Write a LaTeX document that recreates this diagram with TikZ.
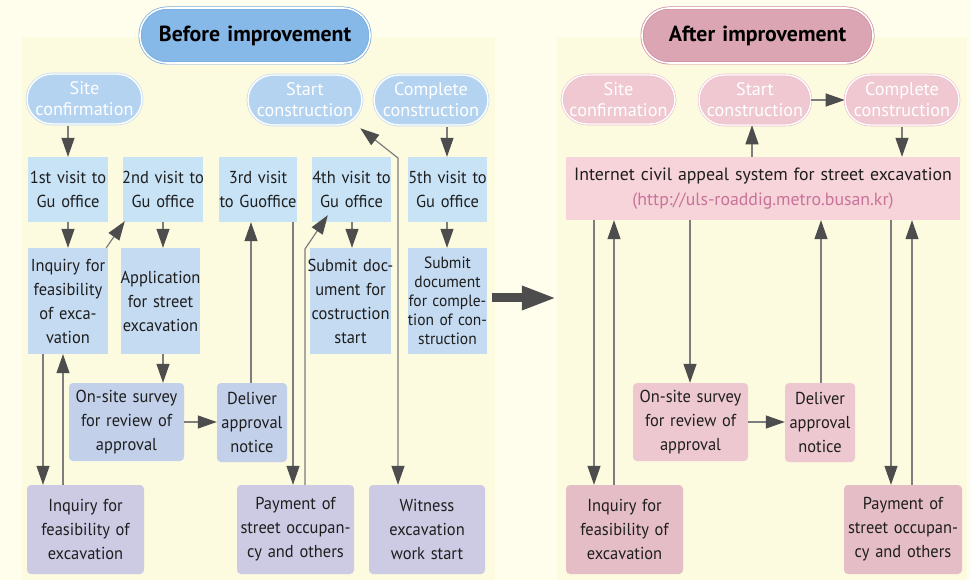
\documentclass[tikz,border=0pt]{standalone}
\usepackage{fontspec}
\setmainfont{PT Sans}
\newfontfamily\boxfont[FakeStretch=0.95]{PT Sans}
\usetikzlibrary{arrows.meta,calc}

\definecolor{pagebg}{HTML}{FFFEEC}
\definecolor{panelbg}{HTML}{FCFADF}
\definecolor{visitblue}{HTML}{C8E3F6}
\definecolor{taskblue}{HTML}{C5DBF1}
\definecolor{reviewblue}{HTML}{C2D0EA}
\definecolor{userlav}{HTML}{CDCAE4}
\definecolor{pillblue}{HTML}{B4D3F0}
\definecolor{pillblueline}{HTML}{BCD7EF}
\definecolor{titleblue}{HTML}{86B9E7}
\definecolor{titleblueline}{HTML}{72A9DD}
\definecolor{pillpink}{HTML}{F0C8D2}
\definecolor{pillpinkline}{HTML}{EBBFCA}
\definecolor{titlepink}{HTML}{DCA5B4}
\definecolor{titlepinkline}{HTML}{CF8A9D}
\definecolor{netpink}{HTML}{F7D4D9}
\definecolor{reviewpink}{HTML}{EDC8D0}
\definecolor{userpink}{HTML}{E5BDC6}
\definecolor{urlpink}{HTML}{C8739A}
\definecolor{linegray}{HTML}{7D7D7D}
\definecolor{headgray}{HTML}{4D4D4D}
\definecolor{inkdark}{HTML}{1E1E1E}

% box given by its corner coordinates: style, name, x1, y1, x2, y2, text
% (text area is wider than the box so lines never wrap; the box keeps its size)
\newcommand\cornerbox[7]{%
  \node[#1, minimum width={(#5-#3)*1pt}, minimum height={(#6-#4)*1pt},
        text width={(#5-#3+30)*1pt}, inner xsep=-15pt]
    (#2) at ({(#3+#5)/2},{(#4+#6)/2}) {#7};}

\begin{document}
\begin{tikzpicture}[x=1pt,y=-1pt,
  basebox/.style={rectangle, inner sep=0pt, align=center, text=inkdark,
    font=\boxfont\fontsize{17.3}{24}\selectfont},
  visitbox/.style={basebox, fill=visitblue},
  taskbox/.style={basebox, fill=taskblue},
  reviewbox/.style={basebox, fill=reviewblue, rounded corners=4pt},
  userbox/.style={basebox, fill=userlav, rounded corners=4pt},
  reviewboxR/.style={basebox, fill=reviewpink, rounded corners=4pt},
  userboxR/.style={basebox, fill=userpink, rounded corners=4pt},
  netbox/.style={basebox, fill=netpink, font=\rmfamily\fontsize{17.8}{25}\selectfont},
  pillL/.style={rectangle, rounded corners=25pt, inner sep=0pt, align=center,
    fill=pillblue, draw=pillblueline, double=white, double distance=1.4pt,
    line width=0.6pt, text=white, font=\fontsize{18.2}{21}\selectfont},
  pillR/.style={pillL, fill=pillpink, draw=pillpinkline},
  titleL/.style={rectangle, rounded corners=27pt, inner sep=0pt, align=center,
    fill=titleblue, draw=titleblueline, double=white, double distance=1.6pt,
    line width=0.7pt, text=black, font=\fontsize{21.8}{24}\selectfont\bfseries},
  titleR/.style={titleL, fill=titlepink, draw=titlepinkline},
  conn/.style={draw=linegray, line width=1.2pt,
    -{Triangle[length=19pt,width=13pt,color=headgray]}},
  conn2/.style={conn, {Triangle[length=19pt,width=13pt,color=headgray]}-{Triangle[length=19pt,width=13pt,color=headgray]}},
  bigarrow/.style={draw=headgray, line width=9pt,
    -{Triangle[length=35pt,width=22pt,color=headgray]}},
  panel/.style={rectangle, fill=panelbg, inner sep=0pt}
]
\useasboundingbox (0,0) rectangle (970,580);
\fill[pagebg] (0,0) rectangle (970,580);

% panels
\cornerbox{panel}{pl}{22}{37}{495}{580}{}
\cornerbox{panel}{pr}{557}{37}{967}{580}{}

% ---------- before ----------
\cornerbox{titleL}{tb}{140}{8}{370}{63}{Before improvement}
\cornerbox{pillL}{sc1}{27}{74}{142}{124}{Site\\confirmation}
\cornerbox{pillL}{st1}{248}{75}{362}{125}{Start\\construction}
\cornerbox{pillL}{cc1}{374}{75}{488}{125}{Complete\\construction}

\cornerbox{visitbox}{v1}{28}{157}{108}{222}{1st visit to\\Gu office}
\cornerbox{visitbox}{v2}{123}{157}{203}{222}{2nd visit to\\Gu office}
\cornerbox{visitbox}{v3}{219}{157}{297}{222}{3rd visit\\to Guoffice}
\cornerbox{visitbox}{v4}{312}{157}{391}{222}{4th visit to\\Gu office}
\cornerbox{visitbox}{v5}{408}{157}{487}{222}{5th visit to\\Gu office}

\cornerbox{taskbox}{inq}{28}{248}{108}{354}{Inquiry for\\feasibility\\of exca-\\vation}
\cornerbox{taskbox}{app}{121}{248}{200}{354}{Application\\for street\\excavation}
\cornerbox{taskbox}{sub4}{310}{248}{391}{354}{Submit doc-\\ument for\\costruction\\start}
\cornerbox{taskbox, font=\boxfont\fontsize{16.3}{19}\selectfont}{sub5}{408}{248}{487}{354}{Submit\\document\\for comple-\\tion of con-\\struction}

\cornerbox{reviewbox}{osv}{69}{383}{184}{461}{On-site survey\\for review of\\approval}
\cornerbox{reviewbox}{dlv}{217}{383}{287}{462}{Deliver\\approval\\notice}

\cornerbox{userbox}{inq2}{27}{485}{144}{574}{Inquiry for\\feasibility of\\excavation}
\cornerbox{userbox}{pay}{237}{485}{354}{574}{Payment of\\street occupan-\\cy and others}
\cornerbox{userbox}{wit}{369}{485}{485}{574}{Witness\\excavation\\work start}

% ---------- after ----------
\cornerbox{titleR}{ta}{642}{8}{873}{63}{After improvement}
\cornerbox{pillR}{sc2}{562}{75}{675}{124}{Site\\confirmation}
\cornerbox{pillR}{st2}{699}{75}{811}{125}{Start\\construction}
\cornerbox{pillR}{cc2}{845}{75}{959}{125}{Complete\\construction}

\cornerbox{netbox}{net}{566}{157}{960}{220}{Internet civil appeal system for street excavation\\\textcolor{urlpink}{(http://uls-roaddig.metro.busan.kr)}}

\cornerbox{reviewboxR}{osv2}{633}{383}{748}{461}{On-site survey\\for review of\\approval}
\cornerbox{reviewboxR}{dlv2}{785}{383}{855}{462}{Deliver\\approval\\notice}
\cornerbox{userboxR}{inq3}{566}{485}{683}{574}{Inquiry for\\feasibility of\\excavation}
\cornerbox{userboxR}{pay2}{844}{485}{962}{574}{Payment of\\street occupan-\\cy and others}

% ---------- connectors, before ----------
\draw[conn] ($(68,0 |- sc1.south)+(0,2)$) -- (68,0 |- v1.north);
\draw[conn] ($(447,0 |- cc1.south)+(0,2)$) -- (447,0 |- v5.north);
\draw[conn] (v1.south) -- (inq.north);
\draw[conn] ($(inq.north east)+(-2,0)$) -- ($(v2.south west)+(2,-1)$);
\draw[conn] (163,0 |- v2.south) -- (163,0 |- app.north);
\draw[conn] (163,0 |- app.south) -- (163,0 |- osv.north);
\draw[conn] (osv.east) -- (dlv.west |- osv.east);
\draw[conn] (251,0 |- dlv.north) -- (251,0 |- v3.south);
\draw[conn] (293,0 |- v3.south) -- (293,0 |- pay.north);
\draw[conn] (305,0 |- pay.north) -- (305,249) -- ($(v4.south west)+(16,-7)$);
\draw[conn] (352,0 |- v4.south) -- (352,0 |- sub4.north);
\draw[conn2] ($(st1.south east)+(-2,3)$) -- (398,158) -- (398,0 |- wit.north);
\draw[conn] (447,0 |- v5.south) -- (447,0 |- sub5.north);
\draw[conn] (43,0 |- inq.south) -- (43,0 |- inq2.north);
\draw[conn] (63,0 |- inq2.north) -- (63,0 |- inq.south);

% from before to after
\draw[bigarrow] ($(pl.east |- 0,298)+(-3,0)$) -- (pr.west |- 0,298);

% ---------- connectors, after ----------
\draw[conn] (st2.east) -- (cc2.west);
\draw[conn] (752,0 |- net.north) -- (752,0 |- st2.south);
\draw[conn] ($(902,0 |- cc2.south)+(0,2)$) -- (902,0 |- net.north);
\draw[conn] (594,0 |- net.south) -- (594,0 |- inq3.north);
\draw[conn] (614,0 |- inq3.north) -- (614,0 |- net.south);
\draw[conn] (690,0 |- net.south) -- (690,0 |- osv2.north);
\draw[conn] (osv2.east) -- (dlv2.west |- osv2.east);
\draw[conn] (821,0 |- dlv2.north) -- (821,0 |- net.south);
\draw[conn] (891,0 |- net.south) -- (891,0 |- pay2.north);
\draw[conn] (912,0 |- pay2.north) -- (912,0 |- net.south);
\end{tikzpicture}
\end{document}
